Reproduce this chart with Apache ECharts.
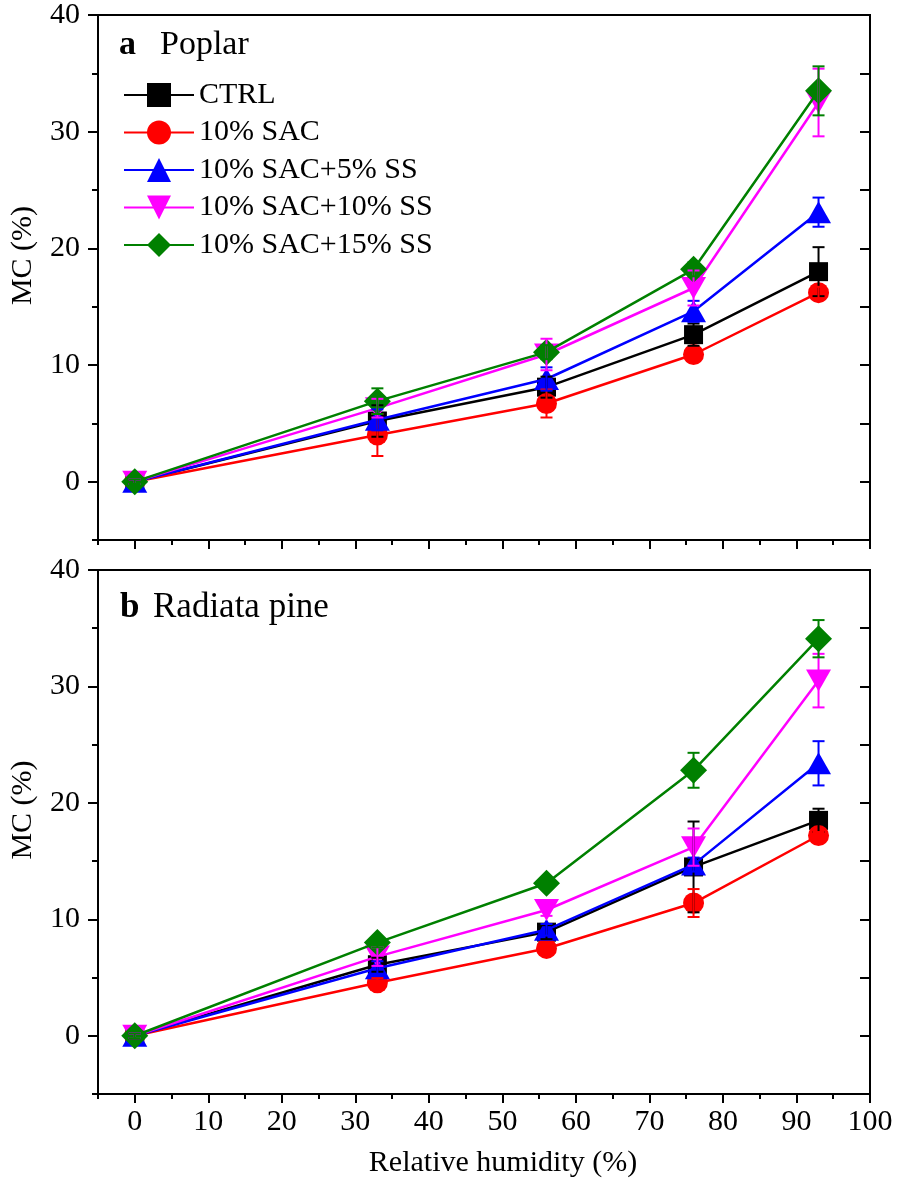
<!DOCTYPE html>
<html>
<head>
<meta charset="utf-8">
<script src="https://cdn.jsdelivr.net/npm/echarts@6/dist/echarts.min.js"></script>
<style>
html,body{margin:0;padding:0;background:#fff;}
#chart{width:898px;height:1188px;}
</style>
</head>
<body>
<div id="chart"></div>
<script>
// Relative humidity (%) levels
var rh = [0, 33, 56, 76, 93];

// Series names
var seriesNames = ['CTRL', '10% SAC', '10% SAC+5% SS', '10% SAC+10% SS', '10% SAC+15% SS'];

// Panel a: Poplar — MC (%) means and error (SD)
var poplarCTRL = [0, 5.2, 8.1, 12.6, 18.0];
var poplarCTRLErr = [0.2, 1.35, 0.9, 0.95, 2.1];
var poplarSAC = [0, 4.0, 6.7, 10.9, 16.2];
var poplarSACErr = [0.2, 1.8, 1.2, 0.4, 0.5];
var poplarSS5 = [0, 5.3, 8.8, 14.6, 23.1];
var poplarSS5Err = [0.2, 0.9, 1.0, 0.9, 1.25];
var poplarSS10 = [0, 6.3, 10.9, 16.6, 32.5];
var poplarSS10Err = [0.2, 0.8, 1.35, 1.5, 2.9];
var poplarSS15 = [0, 6.9, 11.1, 18.2, 33.5];
var poplarSS15Err = [0.2, 1.1, 0.6, 0.6, 2.1];

// Panel b: Radiata pine
var pineCTRL = [0, 6.1, 8.9, 14.5, 18.5];
var pineCTRLErr = [0.2, 0.6, 0.6, 3.9, 1.0];
var pineSAC = [0, 4.55, 7.5, 11.4, 17.2];
var pineSACErr = [0.2, 0.4, 0.4, 1.2, 0.3];
var pineSS5 = [0, 5.8, 9.1, 14.7, 23.4];
var pineSS5Err = [0.2, 0.6, 0.5, 0.6, 1.9];
var pineSS10 = [0, 6.8, 10.8, 16.2, 30.5];
var pineSS10Err = [0.2, 0.8, 0.5, 1.6, 2.3];
var pineSS15 = [0, 8.0, 13.1, 22.8, 34.1];
var pineSS15Err = [0.2, 0.4, 0.4, 1.5, 1.6];

// Tick values
var xMajorTicks = [0, 10, 20, 30, 40, 50, 60, 70, 80, 90, 100];
var xMinorTicks = [-5, 5, 15, 25, 35, 45, 55, 65, 75, 85, 95];
var yMajorTicks = [0, 10, 20, 30, 40];
var yMinorTicks = [-5, 5, 15, 25, 35];
var yRightTicks = [0, 5, 10, 15, 20, 25, 30, 35];

var FONT = "'Liberation Serif', 'Times New Roman', serif";
var colors = ['#000000', '#ff0000', '#0000ff', '#ff00ff', '#008000'];
var symbols = ['rect', 'circle', 'triangle', 'path://M0,0L24,0L12,21Z', 'diamond'];
var symbolSizes = [19, 21, [25, 22], [25, 22], [27, 27]];

var poplar = [poplarCTRL, poplarSAC, poplarSS5, poplarSS10, poplarSS15];
var poplarErr = [poplarCTRLErr, poplarSACErr, poplarSS5Err, poplarSS10Err, poplarSS15Err];
var pine = [pineCTRL, pineSAC, pineSS5, pineSS10, pineSS15];
var pineErr = [pineCTRLErr, pineSACErr, pineSS5Err, pineSS10Err, pineSS15Err];

var chart = echarts.init(document.getElementById('chart'), null, {renderer: 'canvas'});

function xAxes(gridIndex, showLabels, withName) {
  var main = {
    type: 'value', gridIndex: gridIndex, min: -5, max: 100, position: 'bottom',
    axisLine: {show: true, onZero: false, lineStyle: {color: '#000', width: 2}},
    axisTick: {show: true, inside: false, length: 9, customValues: xMajorTicks, lineStyle: {color: '#000', width: 2}},
    axisLabel: {show: showLabels, customValues: xMajorTicks, margin: 13, color: '#000', fontSize: 30, fontFamily: FONT},
    splitLine: {show: false}
  };
  if (withName) {
    main.name = 'Relative humidity (%)';
    main.nameLocation = 'middle';
    main.nameGap = 54;
    main.nameTextStyle = {fontSize: 30, fontFamily: FONT, color: '#000', padding: [0, 0, 0, 38]};
  }
  var minor = {
    type: 'value', gridIndex: gridIndex, min: -5, max: 100, position: 'bottom',
    axisLine: {show: false, onZero: false},
    axisTick: {show: true, inside: false, length: 5, customValues: xMinorTicks, lineStyle: {color: '#000', width: 2}},
    axisLabel: {show: false},
    splitLine: {show: false}
  };
  return [main, minor];
}

function yAxes(gridIndex) {
  return [
    {
      type: 'value', gridIndex: gridIndex, min: -5, max: 40, position: 'left',
      name: 'MC (%)', nameLocation: 'middle', nameGap: 60,
      nameTextStyle: {fontSize: 30, fontFamily: FONT, color: '#000', padding: [0, 0, 0, 44]},
      axisLine: {show: true, onZero: false, lineStyle: {color: '#000', width: 2}},
      axisTick: {show: true, inside: false, length: 10, customValues: yMajorTicks, lineStyle: {color: '#000', width: 2}},
      axisLabel: {show: true, customValues: yMajorTicks, margin: 18, color: '#000', fontSize: 30, fontFamily: FONT},
      splitLine: {show: false}
    },
    {
      type: 'value', gridIndex: gridIndex, min: -5, max: 40, position: 'left',
      axisLine: {show: false, onZero: false},
      axisTick: {show: true, inside: false, length: 6, customValues: yMinorTicks, lineStyle: {color: '#000', width: 2}},
      axisLabel: {show: false},
      splitLine: {show: false}
    },
    {
      type: 'value', gridIndex: gridIndex, min: -5, max: 40, position: 'right',
      axisLine: {show: true, onZero: false, lineStyle: {color: '#000', width: 2}},
      axisTick: {show: true, inside: true, length: 10, customValues: yRightTicks, lineStyle: {color: '#000', width: 2}},
      axisLabel: {show: false},
      splitLine: {show: false}
    }
  ];
}

function errorSeries(name, vals, errs, color, xIdx, yIdx) {
  var data = rh.map(function (x, i) { return [x, vals[i], errs[i]]; });
  return {
    type: 'custom', name: name + ' err', xAxisIndex: xIdx, yAxisIndex: yIdx, z: 5,
    silent: true, animation: false,
    encode: {x: 0, y: 1},
    data: data,
    renderItem: function (params, api) {
      var x = api.value(0), v = api.value(1), e = api.value(2);
      var hi = api.coord([x, v + e]);
      var lo = api.coord([x, v - e]);
      var hw = 6;
      var st = {stroke: color, lineWidth: 2};
      return {
        type: 'group',
        children: [
          {type: 'line', shape: {x1: hi[0], y1: hi[1], x2: lo[0], y2: lo[1]}, style: st},
          {type: 'line', shape: {x1: hi[0] - hw, y1: hi[1], x2: hi[0] + hw, y2: hi[1]}, style: st},
          {type: 'line', shape: {x1: lo[0] - hw, y1: lo[1], x2: lo[0] + hw, y2: lo[1]}, style: st}
        ]
      };
    }
  };
}

function lineSeries(name, vals, idx, xIdx, yIdx) {
  return {
    type: 'line', name: name, xAxisIndex: xIdx, yAxisIndex: yIdx,
    data: rh.map(function (x, i) { return [x, vals[i]]; }),
    symbol: symbols[idx], symbolSize: symbolSizes[idx], showSymbol: true,
    lineStyle: {color: colors[idx], width: 2.5},
    itemStyle: {color: colors[idx]},
    emphasis: {disabled: true},
    animation: false, z: 2 + idx * 0.01
  };
}

var series = [];
seriesNames.forEach(function (n, i) { series.push(lineSeries(n, poplar[i], i, 0, 0)); });
seriesNames.forEach(function (n, i) { series.push(lineSeries(n + ' ', pine[i], i, 2, 3)); });
seriesNames.forEach(function (n, i) { series.push(errorSeries(n, poplar[i], poplarErr[i], colors[i], 0, 0)); });
seriesNames.forEach(function (n, i) { series.push(errorSeries(n + ' b', pine[i], pineErr[i], colors[i], 2, 3)); });

var option = {
  backgroundColor: '#fff',
  animation: false,
  grid: [
    {left: 96, right: 28, top: 15, height: 525, show: true, borderColor: '#000', borderWidth: 2, backgroundColor: 'transparent'},
    {left: 96, right: 28, top: 570, height: 524, show: true, borderColor: '#000', borderWidth: 2, backgroundColor: 'transparent'}
  ],
  title: [
    {text: 'a', left: 119, top: 28, padding: 0, textStyle: {fontSize: 34, fontWeight: 'bold', fontFamily: FONT, color: '#000', lineHeight: 34}},
    {text: 'Poplar', left: 160, top: 28, padding: 0, textStyle: {fontSize: 34, fontWeight: 'normal', fontFamily: FONT, color: '#000', lineHeight: 34}},
    {text: 'b', left: 120, top: 590, padding: 0, textStyle: {fontSize: 35, fontWeight: 'bold', fontFamily: FONT, color: '#000', lineHeight: 35}},
    {text: 'Radiata pine', left: 153, top: 590, padding: 0, textStyle: {fontSize: 35, fontWeight: 'normal', fontFamily: FONT, color: '#000', lineHeight: 35}}
  ],
  legend: {
    data: seriesNames,
    orient: 'vertical', left: 123, top: 80, padding: 0,
    itemWidth: 70, itemHeight: 30, itemGap: 7.5,
    textStyle: {fontSize: 30, fontFamily: FONT, color: '#000', lineHeight: 30},
    selectedMode: false
  },
  xAxis: [].concat(xAxes(0, false, false), xAxes(1, true, true)),
  yAxis: [].concat(yAxes(0), yAxes(1)),
  series: series
};
chart.setOption(option);
</script>
</body>
</html>
